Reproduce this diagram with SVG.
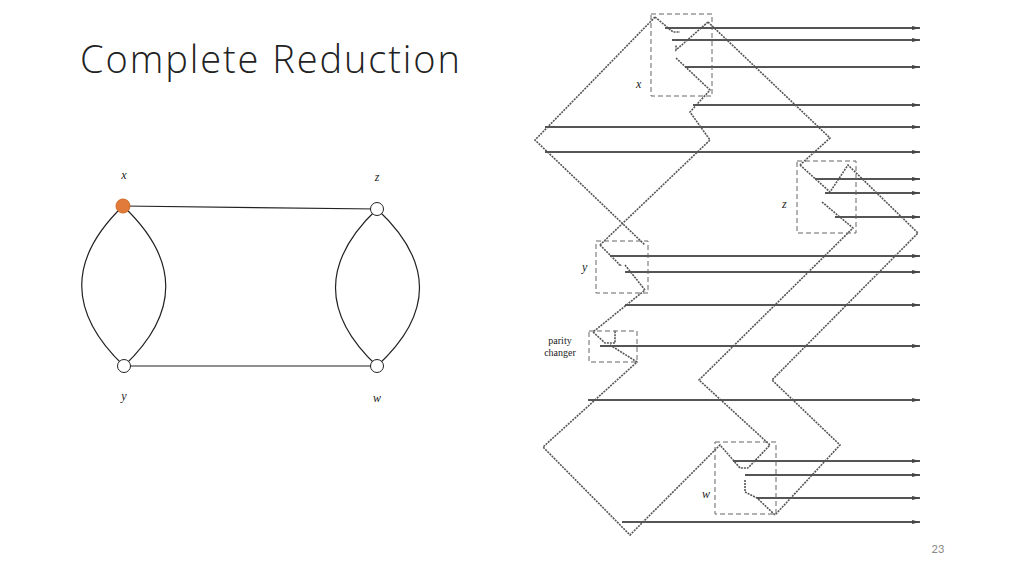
<svg xmlns="http://www.w3.org/2000/svg" width="1024" height="576" viewBox="0 0 1024 576">
<style>
.t{font-family:"Open Sans",sans-serif;font-weight:300;fill:#222}
.lab{font-family:"Liberation Serif",serif;font-style:italic;font-size:12px;fill:#222}
.lab2{font-family:"Liberation Serif",serif;font-size:10px;fill:#222}
.e{fill:none;stroke:#222;stroke-width:1.2}
.h{stroke:#555;stroke-width:2.2}
.d{fill:none;stroke:#555;stroke-width:1.6;stroke-dasharray:2 1}
.box{fill:none;stroke:#666;stroke-width:1;stroke-dasharray:5 3}
</style>
<defs><marker id="a" markerUnits="userSpaceOnUse" markerWidth="8" markerHeight="4" refX="8" refY="2" orient="auto"><path d="M0,0L8,2L0,4z" fill="#444"/></marker></defs>
<rect width="1024" height="576" fill="#fff"/>
<text class="t" x="80" y="73" font-size="38" textLength="380">Complete Reduction</text>
<text x="938" y="553" font-family="Lato,sans-serif" font-size="11" fill="#888" text-anchor="middle">23</text>
<g id="edges">
<line class="e" x1="123" y1="206" x2="377" y2="209"/>
<line class="e" x1="124" y1="366" x2="377" y2="366"/>
<path class="e" d="M123,206Q40,286 124,366"/>
<path class="e" d="M123,206Q208,286 124,366"/>
<path class="e" d="M377,209Q294,288 377,366"/>
<path class="e" d="M377,209Q462,288 377,366"/>
</g>
<g id="node-x"><circle cx="123" cy="206" r="7" fill="#e07b39" stroke="#d06a28"/><text class="lab" x="124" y="179" text-anchor="middle">x</text></g>
<g id="node-z"><circle cx="377" cy="209" r="6.5" fill="#fff" stroke="#222"/><text class="lab" x="377" y="181" text-anchor="middle">z</text></g>
<g id="node-y"><circle cx="124" cy="366" r="6.5" fill="#fff" stroke="#222"/><text class="lab" x="124" y="400" text-anchor="middle">y</text></g>
<g id="node-w"><circle cx="377" cy="366" r="6.5" fill="#fff" stroke="#222"/><text class="lab" x="377" y="402" text-anchor="middle">w</text></g>
<g id="reduction">
<g marker-end="url(#a)">
<line class="h" x1="665" y1="28" x2="920" y2="28"/>
<line class="h" x1="672" y1="40" x2="920" y2="40"/>
<line class="h" x1="685" y1="67" x2="920" y2="67"/>
<line class="h" x1="693" y1="105" x2="920" y2="105"/>
<line class="h" x1="545" y1="127" x2="920" y2="127"/>
<line class="h" x1="545" y1="152" x2="920" y2="152"/>
<line class="h" x1="815" y1="179" x2="920" y2="179"/>
<line class="h" x1="825" y1="193" x2="920" y2="193"/>
<line class="h" x1="835" y1="217" x2="920" y2="217"/>
<line class="h" x1="610" y1="256" x2="920" y2="256"/>
<line class="h" x1="625" y1="272" x2="920" y2="272"/>
<line class="h" x1="625" y1="305" x2="920" y2="305"/>
<line class="h" x1="600" y1="346" x2="920" y2="346"/>
<line class="h" x1="588" y1="400" x2="920" y2="400"/>
<line class="h" x1="733" y1="461" x2="920" y2="461"/>
<line class="h" x1="745" y1="475" x2="920" y2="475"/>
<line class="h" x1="757" y1="498" x2="920" y2="498"/>
<line class="h" x1="622" y1="522" x2="920" y2="522"/>
</g>
<path class="d" d="M655,17L535,140L645,245"/>
<path class="d" d="M655,17L673,32L680,32"/>
<path class="d" d="M708,22L676,50L676,45"/>
<path class="d" d="M708,22L830,138L800,165"/>
<path class="d" d="M676,58L710,90L690,112L710,140L600,245"/>
<path class="d" d="M800,165L830,192L848,165L918,233L772,380L840,445L775,515"/>
<path class="d" d="M822,202L853,228L699,380L770,445L748,468"/>
<path class="d" d="M600,245L620,265L618,265M625,265L645,290L593,332L605,343L615,343L615,330"/>
<path class="d" d="M610,345L637,362L543,447L630,535L720,445L740,468L748,468"/>
<path class="d" d="M745,480L745,492L757,498L775,515"/>
<g class="box">
<rect x="651" y="14" width="61" height="82"/>
<rect x="797" y="161" width="59" height="72"/>
<rect x="596" y="241" width="52" height="52"/>
<rect x="589" y="331" width="48" height="31"/>
<rect x="715" y="442" width="61" height="72"/>
</g>
<text class="lab" x="636" y="88" font-size="9">x</text>
<text class="lab" x="782" y="208" font-size="9">z</text>
<text class="lab" x="582" y="271" font-size="9">y</text>
<text class="lab2" x="560" y="344" text-anchor="middle">parity</text>
<text class="lab2" x="560" y="356" text-anchor="middle">changer</text>
<text class="lab" x="702" y="498" font-size="9">w</text>
</g>
</svg>
